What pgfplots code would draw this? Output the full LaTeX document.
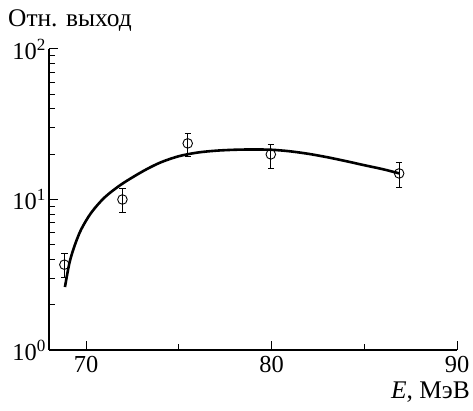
\documentclass[border=0pt]{standalone}
\usepackage{fontspec}
\setmainfont{Liberation Serif}
\usepackage{pgfplots}
\pgfplotsset{compat=1.18}
\newcommand{\tl}{\fontsize{24.5}{29}\selectfont}
\begin{document}
\begin{tikzpicture}
\begin{axis}[
  scale only axis, width=408bp, height=301bp,
  xmin=68, xmax=90, ymode=log, ymin=1, ymax=100,
  axis x line*=bottom, axis y line*=left,
  axis line style={line width=1.1pt,-},
  xtick={70,80,90}, minor xtick={75,85},
  xticklabels={{\tl 70},{\tl 80},{\tl 90}},
  ytick={1,10,100},
  yticklabels={{\tl 10\textsuperscript{0}},{\tl 10\textsuperscript{1}},{\tl 10\textsuperscript{2}}},
  /pgf/number format/assume math mode=true,
  tick align=inside, major tick length=9bp, minor tick length=6bp,
  every tick/.style={black, line width=1pt},
  xticklabel style={inner sep=2bp, yshift=-4bp},
  yticklabel style={inner sep=3bp},
  clip=false,
]
\addplot[black, line width=2.6bp, smooth, tension=0.5] coordinates {
(68.86,2.62) (69.1,3.78) (69.37,4.89) (69.73,6.31) (70.27,8.15) (70.99,10.3)
(71.9,12.6) (73.06,15.4) (74.0,17.6) (75.0,19.4) (76.0,20.5) (77.0,21.1)
(78.0,21.4) (79.0,21.5) (80.0,21.4) (81.0,20.9) (82.0,20.1) (83.0,19.1)
(84.0,18.0) (85.0,16.9) (86.0,15.9) (86.9,14.9)
};
\addplot[black, only marks, mark=o, mark size=4.8bp,
  mark options={fill=white, line width=0.9pt},
  error bars/.cd, y dir=both, y explicit,
  error bar style={line width=0.9pt},
  error mark options={rotate=90, mark size=3.2bp, line width=0.9pt}]
  table[x=x, y=y, y error plus=ep, y error minus=em] {
x y ep em
68.83 3.69 0.68 0.67
71.96 10.0 1.8 1.8
75.48 23.6 3.9 4.2
79.96 19.95 3.35 3.85
86.88 14.9 2.7 2.9
};
\node[anchor=base west, font=\fontsize{25.5}{30}\selectfont, inner sep=0pt]
  at ([xshift=-41bp, yshift=22bp]rel axis cs:0,1) {Отн. выход};
\node[anchor=base east, font=\fontsize{25.5}{30}\selectfont, inner sep=0pt]
  at ([xshift=13bp, yshift=-48bp]rel axis cs:1,0) {\textit{E}, МэВ};
\coordinate (LL) at (rel axis cs:0,0);
\coordinate (UR) at (rel axis cs:1,1);
\end{axis}
\pgfresetboundingbox
\path[use as bounding box] ([xshift=-49bp,yshift=-61bp]LL) rectangle ([xshift=16bp,yshift=49bp]UR);
\end{tikzpicture}
\end{document}
